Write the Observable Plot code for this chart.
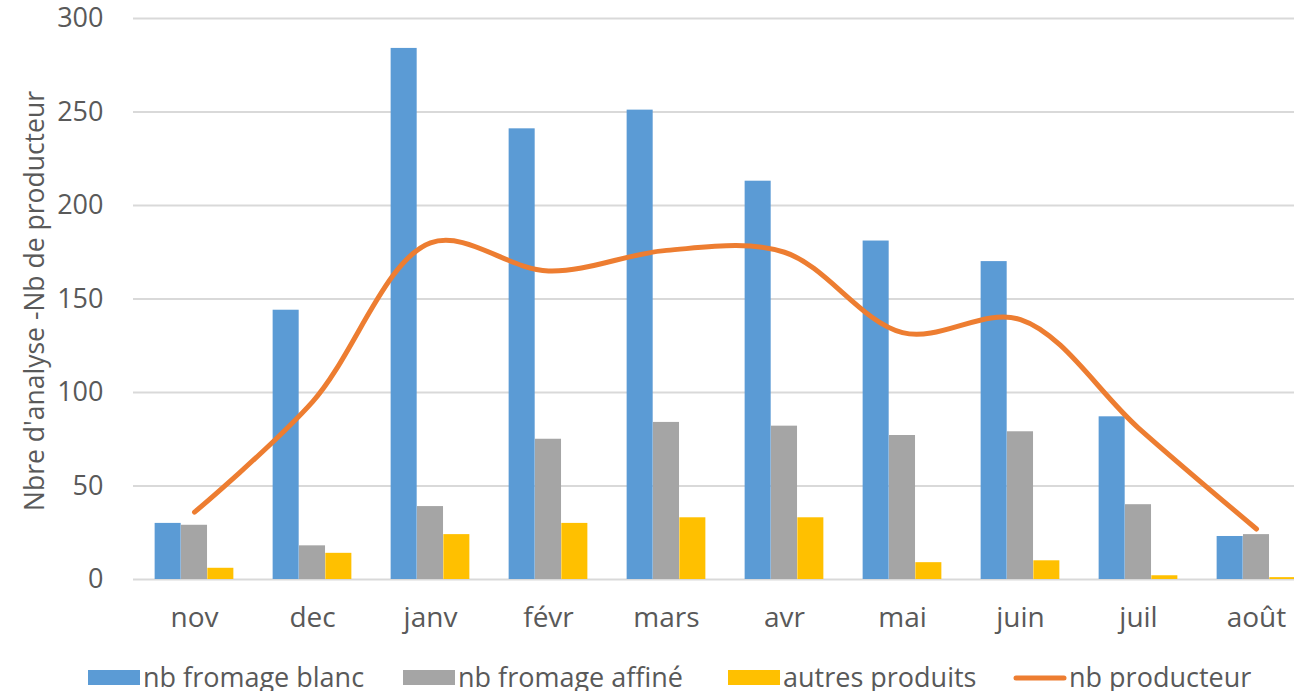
<!DOCTYPE html>
<html>
<head>
<meta charset="utf-8">
<script src="https://cdn.jsdelivr.net/npm/d3@7"></script>
<script src="https://cdn.jsdelivr.net/npm/@observablehq/plot@0.6"></script>
<style>
  html, body { margin: 0; padding: 0; background: #fff; overflow: hidden; width: 1294px; height: 691px; }
  #wrap { position: relative; width: 1294px; height: 691px; overflow: hidden; }
  #chart { position: absolute; left: 0; top: 0; width: 1294px; height: 650px; overflow: hidden; }
  #legend { position: absolute; left: 0; top: 650px; width: 1294px; height: 41px; overflow: hidden; }
</style>
</head>
<body>
<div id="wrap">
<div id="chart"></div>
<div id="legend"></div>
</div>
<script>
const months = ["nov", "dec", "janv", "févr", "mars", "avr", "mai", "juin", "juil", "août"];
const fromageBlanc = [30, 144, 284, 241, 251, 213, 181, 170, 87, 23];
const fromageAffine = [29, 18, 39, 75, 84, 82, 77, 79, 40, 24];
const autresProduits = [6, 14, 24, 30, 33, 33, 9, 10, 2, 1];
const nbProducteur = [36, 95, 180, 165, 176, 175, 132, 139, 81, 27];
const yTicks = [0, 50, 100, 150, 200, 250, 300];
const seriesNames = ["nb fromage blanc", "nb fromage affiné", "autres produits", "nb producteur"];
const yLabel = "Nbre d'analyse -Nb de producteur";

const colors = ["#5B9BD5", "#A5A5A5", "#FFC000", "#ED7D31"];
const textColor = "#595959";
const font = "'Open Sans', 'Noto Sans', sans-serif";

const W = 1294, H = 650, ML = 133, MR = -22, MT = 18, MB = 71;
const bw = (W - ML - MR) / months.length;
const barW = bw * 0.668 / 3;
const inset = (bw - barW) / 2;

const barSeries = [fromageBlanc, fromageAffine, autresProduits];
const barData = barSeries.map(vals => months.map((m, i) => ({month: m, value: vals[i]})));
const lineData = months.map((m, i) => ({month: m, value: nbProducteur[i]}));

const plot = Plot.plot({
  width: W,
  height: H,
  marginLeft: ML,
  marginRight: MR,
  marginTop: MT,
  marginBottom: MB,
  style: {fontFamily: font, color: textColor, background: "transparent", overflow: "hidden"},
  x: {domain: months, padding: 0},
  y: {domain: [0, 300]},
  marks: [
    Plot.ruleY(yTicks, {stroke: "#D9D9D9", strokeWidth: 2}),
    ...barData.map((d, k) => Plot.barY(d, {
      x: "month", y: "value", fill: colors[k],
      insetLeft: inset, insetRight: inset, dx: (k - 1) * barW
    })),
    Plot.line(lineData, {
      x: "month", y: "value", stroke: colors[3], strokeWidth: 5,
      curve: "catmull-rom", strokeLinecap: "round", strokeLinejoin: "round"
    }),
    Plot.axisY({ticks: yTicks, tickSize: 0, tickPadding: 30, fontSize: 27, label: null}),
    Plot.axisX({tickSize: 0, tickPadding: 28, fontSize: 28, label: null}),
    Plot.text([yLabel], {frameAnchor: "left", textAnchor: "middle", dx: -98, dy: 2, rotate: -90, fontSize: 26.5, fill: textColor})
  ]
});
document.getElementById("chart").appendChild(plot);

// legend below the chart
const legendItems = [
  {name: seriesNames[0], color: colors[0], type: "rect", x: 88},
  {name: seriesNames[1], color: colors[1], type: "rect", x: 403},
  {name: seriesNames[2], color: colors[2], type: "rect", x: 728},
  {name: seriesNames[3], color: colors[3], type: "line", x: 1014}
];
const lsvg = d3.select("#legend").append("svg")
  .attr("width", 1294).attr("height", 41)
  .style("font-family", font);
legendItems.forEach(it => {
  if (it.type === "rect") {
    lsvg.append("rect").attr("x", it.x).attr("y", 20).attr("width", 52).attr("height", 15).attr("fill", it.color);
  } else {
    lsvg.append("line").attr("x1", it.x + 2).attr("x2", it.x + 50).attr("y1", 28).attr("y2", 28)
      .attr("stroke", it.color).attr("stroke-width", 5).attr("stroke-linecap", "round");
  }
  lsvg.append("text").attr("x", it.x + 55).attr("y", 37)
    .attr("fill", textColor).attr("font-size", 27).text(it.name);
});
</script>
</body>
</html>
